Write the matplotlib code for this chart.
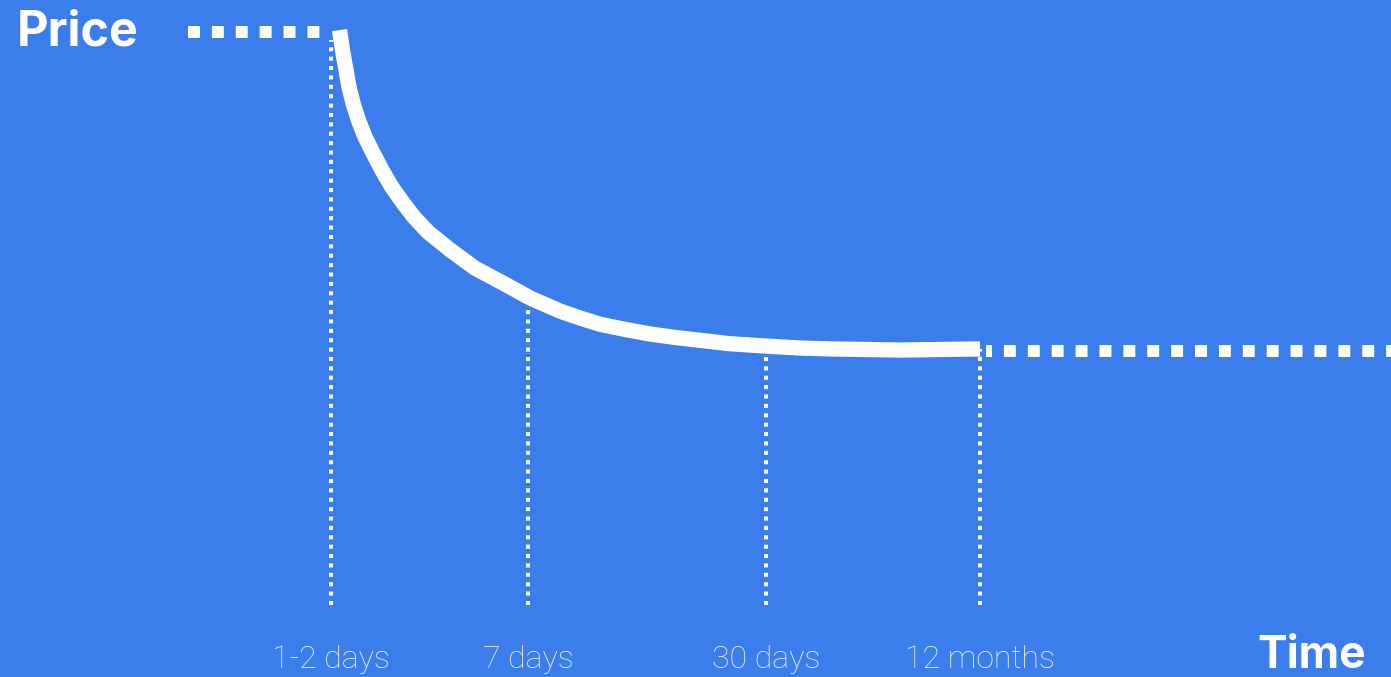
import numpy as np
import matplotlib
matplotlib.use("Agg")
import matplotlib.pyplot as plt

# Datos (tiempo en unidades del eje, precio 0-100)
curve_t = [339.5, 341, 343, 346, 349, 353, 358.5, 365, 373, 382, 392, 403, 414, 428,
           450, 475, 505, 530, 560, 580, 600, 625, 650, 675, 700, 730, 766, 800, 830, 900, 980]
curve_p = [100.35, 98.6, 96.3, 93.4, 90.4, 87.6, 84.6, 81.7, 78.9, 75.9, 72.9, 70.2, 67.7, 65.1,
           62.0, 58.8, 56.0, 53.6, 51.3, 50.1, 49.0, 48.1, 47.3, 46.7, 46.2, 45.6, 45.2, 44.85,
           44.7, 44.5, 44.7]

tick_t = [331, 528, 766, 980]
tick_labels = ["1-2 days", "7 days", "30 days", "12 months"]
guide_top = [98.6, 52.0, 44.0, 44.7]

start_t = [188, 322]
start_p = [100, 100]
end_t = [986, 1391]
end_p = [44.3, 44.3]

BG = "#3a7deb"
WHITE = "white"


def main():
    fig = plt.figure(figsize=(13.91, 6.77), dpi=100)
    fig.patch.set_facecolor(BG)
    ax = fig.add_axes([0, 72 / 677, 1, 605 / 677])
    ax.set_facecolor(BG)
    ax.set_xlim(0, 1391)
    ax.set_ylim(0, 105.6)
    for s in ax.spines.values():
        s.set_visible(False)
    ax.set_yticks([])

    # Líneas guía verticales punteadas
    for t, top in zip(tick_t, guide_top):
        ax.plot([t, t], [0, top], color=WHITE, lw=2.9, linestyle=(0, (1, 1.33)),
                dash_capstyle="butt", clip_on=False, zorder=2)

    # Tramos horizontales punteados
    ax.plot(start_t, start_p, color=WHITE, lw=8.6, linestyle=(0, (1, 1)),
            dash_capstyle="butt", zorder=2)
    ax.plot(end_t, end_p, color=WHITE, lw=8.6, linestyle=(0.5, (1, 1)),
            dash_capstyle="butt", zorder=2)

    # Curva de precio
    ax.plot(curve_t, curve_p, color=WHITE, lw=11, solid_capstyle="butt",
            solid_joinstyle="round", zorder=3)

    # Etiquetas del eje de tiempo
    ax.set_xticks(tick_t)
    ax.set_xticklabels(tick_labels, fontsize=23, color="#eef3fd",
                       family=["Roboto", "DejaVu Sans"], fontweight="light")
    ax.tick_params(axis="x", length=0, pad=29)

    fig.text(17 / 1391, 1 - 45 / 677, "Price", fontsize=35, fontweight="bold",
             family=["Inter", "DejaVu Sans"], color=WHITE, va="baseline", ha="left")
    fig.text(1366 / 1391, 1 - 668 / 677, "Time", fontsize=32, fontweight="bold",
             family=["Inter", "DejaVu Sans"], color=WHITE, va="baseline", ha="right")

    fig.savefig("out.png", dpi=100, facecolor=BG)


if __name__ == "__main__":
    main()
